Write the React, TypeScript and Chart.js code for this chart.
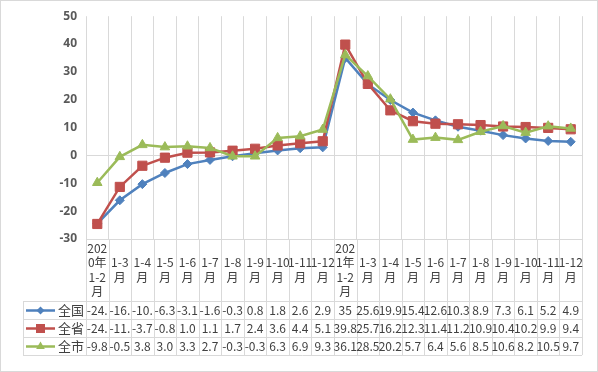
import React, { useEffect, useRef } from "react";
import { Chart, registerables } from "chart.js";

Chart.register(...registerables);

const categories = [
  "2020年1-2月", "1-3月", "1-4月", "1-5月", "1-6月", "1-7月", "1-8月", "1-9月", "1-10月", "1-11月", "1-12月",
  "2021年1-2月", "1-3月", "1-4月", "1-5月", "1-6月", "1-7月", "1-8月", "1-9月", "1-10月", "1-11月", "1-12月",
];
const seriesNames = ["全国", "全省", "全市"];
const nationalValues = [-24.5, -16.1, -10.3, -6.3, -3.1, -1.6, -0.3, 0.8, 1.8, 2.6, 2.9, 35, 25.6, 19.9, 15.4, 12.6, 10.3, 8.9, 7.3, 6.1, 5.2, 4.9];
const provinceValues = [-24.6, -11.3, -3.7, -0.8, 1.0, 1.1, 1.7, 2.4, 3.6, 4.4, 5.1, 39.8, 25.7, 16.2, 12.3, 11.4, 11.2, 10.9, 10.4, 10.2, 9.9, 9.4];
const cityValues = [-9.8, -0.5, 3.8, 3.0, 3.3, 2.7, -0.3, -0.3, 6.3, 6.9, 9.3, 36.1, 28.5, 20.2, 5.7, 6.4, 5.6, 8.5, 10.6, 8.2, 10.5, 9.7];
const yMin = -30;
const yMax = 50;
const yStep = 10;

const colors = ["#4F81BD", "#C0504D", "#9BBB59"];
const shapes = ["rectRot", "rect", "triangle"];
const GRID = "#d9d9d9";
const TEXT = "#404040";
const CELL_FONT = "12px 'Noto Sans CJK SC', sans-serif";
const NAME_FONT = "13px 'Noto Sans CJK SC', sans-serif";

function formatValue(v: number): string {
  return Number.isInteger(v) && Math.abs(v) >= 10 ? String(v) : v.toFixed(1);
}

function wrapText(ctx: CanvasRenderingContext2D, text: string, maxW: number): string[] {
  const tokens = text.match(/[\u4e00-\u9fff]|[^\u4e00-\u9fff]+/g) || [];
  const lines: string[] = [];
  let cur = "";
  for (const t of tokens) {
    if (ctx.measureText(cur + t).width <= maxW) { cur += t; continue; }
    if (cur) { lines.push(cur); cur = ""; }
    if (ctx.measureText(t).width <= maxW || t.includes("-")) { cur = t; continue; }
    for (const ch of t) {
      if (ctx.measureText(cur + ch).width <= maxW) cur += ch;
      else { if (cur) lines.push(cur); cur = ch; }
    }
  }
  if (cur) lines.push(cur);
  return lines;
}

function drawMarker(ctx: CanvasRenderingContext2D, shape: string, x: number, y: number, color: string) {
  ctx.save();
  ctx.fillStyle = color;
  ctx.beginPath();
  if (shape === "rectRot") {
    const r = 4;
    ctx.moveTo(x, y - r); ctx.lineTo(x + r, y); ctx.lineTo(x, y + r); ctx.lineTo(x - r, y); ctx.closePath();
  } else if (shape === "rect") {
    ctx.rect(x - 4.5, y - 4.5, 9, 9);
  } else {
    const r = 5;
    ctx.moveTo(x, y - r); ctx.lineTo(x + r * 0.87, y + r * 0.5); ctx.lineTo(x - r * 0.87, y + r * 0.5); ctx.closePath();
  }
  ctx.fill();
  ctx.restore();
}

const tablePlugin = {
  id: "dataTable",
  afterDraw(chart: any) {
    const ctx: CanvasRenderingContext2D = chart.ctx;
    const area = chart.chartArea;
    const xs = chart.scales.x;
    const n = categories.length;
    const cw = (area.right - area.left) / n;
    const headerTop = area.bottom;
    const headerBottom = headerTop + 62;
    const rowH = 18;
    const tableLeft = 23;
    const rows = [nationalValues, provinceValues, cityValues];
    const tableBottom = headerBottom + rowH * rows.length;
    const px = (v: number) => Math.round(v) + 0.5;

    ctx.save();
    ctx.strokeStyle = GRID;
    ctx.lineWidth = 1;
    ctx.beginPath();
    for (let i = 0; i <= n; i++) {
      const x = px(area.left + i * cw);
      ctx.moveTo(x, headerTop); ctx.lineTo(x, tableBottom);
    }
    ctx.moveTo(px(tableLeft), headerBottom); ctx.lineTo(px(tableLeft), tableBottom);
    ctx.moveTo(area.left, px(headerTop)); ctx.lineTo(area.right, px(headerTop));
    for (let r = 0; r <= rows.length; r++) {
      const y = px(headerBottom + r * rowH);
      ctx.moveTo(tableLeft, y); ctx.lineTo(area.right, y);
    }
    ctx.stroke();

    // header labels
    ctx.font = CELL_FONT;
    ctx.fillStyle = TEXT;
    ctx.textAlign = "center";
    ctx.textBaseline = "middle";
    const lh = 14.5;
    categories.forEach((c, i) => {
      const cx = xs.getPixelForValue(i);
      const lines = wrapText(ctx, c, cw - 1);
      const cy = (headerTop + headerBottom) / 2;
      const start = cy - ((lines.length - 1) * lh) / 2;
      lines.forEach((l, k) => ctx.fillText(l, cx, start + k * lh));
    });

    // values
    rows.forEach((vals, r) => {
      const cy = headerBottom + r * rowH + rowH / 2 + 0.5;
      vals.forEach((v, i) => {
        const cx = xs.getPixelForValue(i);
        let s = formatValue(v);
        while (s.length > 1 && ctx.measureText(s).width > cw + 2.5) s = s.slice(0, -1);
        ctx.fillText(s, cx, cy);
      });
      // legend key
      ctx.save();
      ctx.strokeStyle = colors[r];
      ctx.lineWidth = 2.5;
      ctx.beginPath();
      ctx.moveTo(26, cy); ctx.lineTo(55, cy);
      ctx.stroke();
      ctx.restore();
      drawMarker(ctx, shapes[r], 40.5, cy, colors[r]);
      ctx.save();
      ctx.font = NAME_FONT;
      ctx.textAlign = "left";
      ctx.fillStyle = TEXT;
      ctx.fillText(seriesNames[r], 58, cy);
      ctx.restore();
    });

    // outer frame
    ctx.strokeStyle = GRID;
    ctx.strokeRect(0.5, 0.5, chart.width - 1, chart.height - 1);
    ctx.restore();
  },
};

export default function App() {
  const ref = useRef<HTMLCanvasElement | null>(null);
  useEffect(() => {
    if (!ref.current) return;
    const allValues = [nationalValues, provinceValues, cityValues];
    const radii = [4.5, 6.5, 5.5];
    const chart = new Chart(ref.current, {
      type: "line",
      data: {
        labels: categories,
        datasets: allValues.map((vals, i) => ({
          label: seriesNames[i],
          data: vals,
          borderColor: colors[i],
          backgroundColor: colors[i],
          borderWidth: 2.5,
          pointStyle: shapes[i] as any,
          pointRadius: radii[i],
          pointBorderWidth: 1,
          pointBackgroundColor: colors[i],
          pointBorderColor: colors[i],
          tension: 0,
          order: 3 - i,
        })),
      },
      options: {
        responsive: false,
        animation: false,
        layout: { padding: { left: 0, right: 16, top: 16, bottom: 133 } },
        plugins: { legend: { display: false }, tooltip: { enabled: false } },
        scales: {
          x: {
            offset: true,
            grid: { offset: true, color: GRID, drawTicks: false },
            border: { display: false },
            ticks: { display: false },
            afterFit: (s: any) => { s.height = 0; },
          },
          y: {
            min: yMin,
            max: yMax,
            grid: {
              color: (c: any) => (c.tick && c.tick.value === 0 ? GRID : "rgba(0,0,0,0)"),
              drawTicks: false,
            },
            border: { display: false },
            ticks: {
              stepSize: yStep,
              padding: 9,
              color: "#595959",
              font: { family: "'Noto Sans', sans-serif", size: 12, weight: "bold" },
            },
            afterFit: (s: any) => { s.width = 86; },
          },
        },
      },
      plugins: [tablePlugin],
    });
    return () => chart.destroy();
  }, []);
  return (
    <div style={{ position: "absolute", left: 0, top: 0, width: 598, height: 372, background: "#fff" }}>
      <canvas ref={ref} width={598} height={372} />
    </div>
  );
}
